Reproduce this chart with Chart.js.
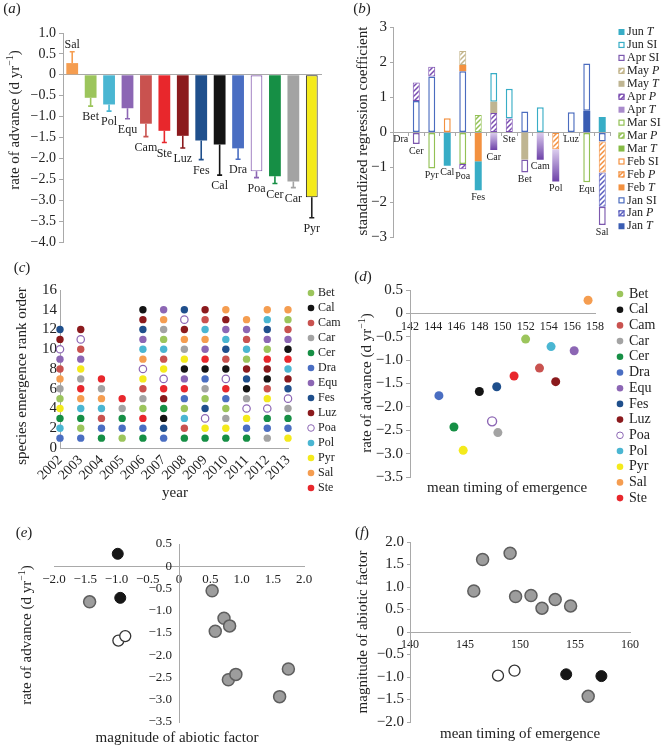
<!DOCTYPE html>
<html>
<head>
<meta charset="utf-8">
<script src="https://cdn.jsdelivr.net/npm/chart.js@4.4.0/dist/chart.umd.min.js"></script>
<style>
  body { margin: 0; background: #fff; }
  #fig { position: relative; width: 662px; height: 746px; overflow: hidden; }
  #fig canvas { position: absolute; }
</style>
</head>
<body>
<div id="fig">
  <canvas id="chartA" width="330" height="258" style="left:0;top:0"></canvas>
  <canvas id="chartB" width="332" height="258" style="left:330px;top:0"></canvas>
  <canvas id="chartC" width="350" height="256" style="left:0;top:258px"></canvas>
  <canvas id="chartD" width="332" height="256" style="left:330px;top:258px"></canvas>
  <canvas id="chartE" width="330" height="232" style="left:0;top:514px"></canvas>
  <canvas id="chartF" width="332" height="232" style="left:330px;top:514px"></canvas>
</div>
<script>
// data

const _ = null;

// (a) rate of advance, one sided error
const aSpecies = ['Sal', 'Bet', 'Pol', 'Equ', 'Cam', 'Ste', 'Luz', 'Fes', 'Cal', 'Dra', 'Poa', 'Cer', 'Car', 'Pyr'];
const aRate = [0.28, -0.55, -0.71, -0.80, -1.17, -1.34, -1.46, -1.57, -1.67, -1.76, -2.31, -2.43, -2.55, -2.93];
const aErr = [0.27, 0.20, 0.16, 0.25, 0.31, 0.28, 0.29, 0.46, 0.73, 0.26, 0.15, 0.17, 0.15, 0.49];

// (b) standardized regression coefficients, one array per factor
const bSpecies = ['Dra', 'Cer', 'Pyr', 'Cal', 'Poa', 'Fes', 'Car', 'Ste', 'Bet', 'Cam', 'Pol', 'Luz', 'Equ', 'Sal'];
const janT  = [_, _, _, _, _, _, _, _, _, _, _, _, 0.62, _];
const janSI = [_, 0.90, 1.60, _, 1.75, _, _, _, 0.60, _, _, 0.58, 1.35, -0.26];
const janP  = [_, _, _, _, _, _, _, _, _, _, _, _, _, -0.98];
const febT  = [_, _, _, _, 0.18, -0.82, _, _, _, _, _, _, _, _];
const febP  = [_, _, _, _, _, _, _, _, _, _, -0.48, _, _, -0.88];
const febSI = [_, _, _, 0.41, _, _, _, _, _, _, _, _, _, _];
const marT  = [_, _, _, _, _, _, _, _, _, _, _, _, _, _];
const marP  = [_, _, _, _, _, 0.50, _, _, _, _, _, _, _, _];
const marSI = [_, _, -1.03, _, -0.90, _, _, _, _, _, _, _, -1.42, _];
const aprT  = [_, _, _, _, _, _, -0.50, _, _, -0.78, -0.92, _, _, _];
const aprP  = [_, 0.53, 0.28, _, -0.15, _, 0.56, 0.40, _, _, _, _, _, _];
const aprSI = [_, -0.33, _, _, _, _, _, _, -0.37, _, _, _, _, -0.52];
const mayT  = [_, _, _, _, _, _, 0.32, _, -0.77, _, _, _, _, _];
const mayP  = [_, _, _, _, 0.40, _, _, _, _, _, _, _, _, _];
const junT  = [_, _, _, -0.95, _, -0.83, _, _, _, _, _, _, _, 0.44];
const junSI = [_, _, _, _, _, _, 0.82, 0.85, _, 0.72, _, _, _, _];

// (c) species in order of emergence, rank 1 first
const years = [2002, 2003, 2004, 2005, 2006, 2007, 2008, 2009, 2010, 2011, 2012, 2013];
const rankOrder = [
  ['Dra', 'Pol', 'Cer', 'Pyr', 'Bet', 'Car', 'Sal', 'Cam', 'Equ', 'Poa', 'Luz', 'Fes'],
  ['Dra', 'Bet', 'Cer', 'Pol', 'Sal', 'Ste', 'Car', 'Pyr', 'Equ', 'Cam', 'Poa', 'Luz'],
  ['Cer', 'Dra', 'Cam', 'Pol', 'Sal', 'Car', 'Ste'],
  ['Bet', 'Dra', 'Cer', 'Car', 'Ste'],
  ['Cer', 'Dra', 'Ste', 'Bet', 'Car', 'Cam', 'Pyr', 'Poa', 'Sal', 'Pol', 'Equ', 'Fes', 'Luz', 'Cal'],
  ['Dra', 'Fes', 'Cal', 'Cer', 'Luz', 'Ste', 'Poa', 'Pyr', 'Cam', 'Pol', 'Bet', 'Car', 'Sal', 'Equ'],
  ['Cer', 'Cam', 'Pol', 'Bet', 'Dra', 'Ste', 'Equ', 'Cal', 'Pyr', 'Car', 'Sal', 'Luz', 'Poa', 'Fes'],
  ['Cer', 'Pyr', 'Poa', 'Fes', 'Bet', 'Car', 'Dra', 'Cal', 'Ste', 'Equ', 'Sal', 'Pol', 'Cam', 'Luz'],
  ['Cer', 'Pyr', 'Car', 'Bet', 'Dra', 'Ste', 'Poa', 'Cal', 'Cam', 'Fes', 'Pol', 'Equ', 'Luz', 'Sal'],
  ['Cer', 'Dra', 'Pyr', 'Poa', 'Car', 'Cal', 'Fes', 'Luz', 'Bet', 'Pol', 'Cam', 'Equ', 'Sal'],
  ['Car', 'Dra', 'Cer', 'Poa', 'Pyr', 'Cam', 'Cal', 'Luz', 'Ste', 'Bet', 'Equ', 'Fes', 'Pol', 'Sal'],
  ['Pyr', 'Dra', 'Cer', 'Car', 'Poa', 'Fes', 'Luz', 'Pol', 'Ste', 'Cal', 'Equ', 'Cam', 'Bet', 'Sal']
];

// (d) mean timing of emergence
const legendSpecies = ['Bet', 'Cal', 'Cam', 'Car', 'Cer', 'Dra', 'Equ', 'Fes', 'Luz', 'Poa', 'Pol', 'Pyr', 'Sal', 'Ste'];
const meanTiming = [152.0, 148.0, 153.2, 149.6, 145.8, 144.5, 156.2, 149.5, 154.6, 149.1, 154.2, 146.6, 157.4, 151.0];

// (e), (f) magnitude of the abiotic factor
const factorSpecies = ['Equ', 'Pol', 'Cal', 'Fes', 'Bet', 'Cam', 'Ste', 'Luz', 'Car', 'Cer', 'Poa', 'Pyr', 'Sal'];
const abioticFactor = [-1.43, -0.94, -0.97, -0.86, 0.53, 0.72, 0.81, 0.58, 0.79, 0.91, 1.75, 1.61, -0.98];
const factorType = ['grey', 'black', 'open', 'open', 'grey', 'grey', 'grey', 'grey', 'grey', 'grey', 'grey', 'grey', 'black'];

// styles

const SERIF = '"Liberation Serif", "DejaVu Serif", serif';
const INK = '#222';
const AXIS = '#a9a9a9';

Chart.defaults.font.family = SERIF;
Chart.defaults.color = INK;
Chart.defaults.animation = false;
Chart.defaults.responsive = false;
Chart.defaults.plugins.legend.display = false;
Chart.defaults.plugins.tooltip.enabled = false;

const spColor = {
  Bet: '#9cc55c', Cal: '#141414', Cam: '#c9524f', Car: '#a3a3a3', Cer: '#168f45',
  Dra: '#4a6ec2', Equ: '#8c66b4', Fes: '#1f4f8c', Luz: '#8b1a1d', Poa: '#ffffff',
  Pol: '#4ab6d2', Pyr: '#f4ea1c', Sal: '#f59d50', Ste: '#e8272c'
};
const POA_EDGE = '#8c66b4';

// month, variable, kind, colour
const bStyle = {
  junT: ['Jun', 'T', 'fill', '#38adc6'],
  junSI: ['Jun', 'SI', 'outline', '#38adc6'],
  aprSI: ['Apr', 'SI', 'outline', '#7c58ae'],
  mayP: ['May', 'P', 'hatch', '#c2b48a'],
  mayT: ['May', 'T', 'fill', '#bfb592'],
  aprP: ['Apr', 'P', 'hatch', '#7a4cb0'],
  aprT: ['Apr', 'T', 'grad', '#a98bcc'],
  marSI: ['Mar', 'SI', 'outline', '#93c155'],
  marP: ['Mar', 'P', 'hatch', '#93c155'],
  marT: ['Mar', 'T', 'fill', '#86bb45'],
  febSI: ['Feb', 'SI', 'outline', '#f39140'],
  febP: ['Feb', 'P', 'hatch', '#f39140'],
  febT: ['Feb', 'T', 'fill', '#f39140'],
  janSI: ['Jan', 'SI', 'outline', '#4b6cbf'],
  janP: ['Jan', 'P', 'hatch', '#5b5fbf'],
  janT: ['Jan', 'T', 'fill', '#3a5db3']
};
const bValues = { janT, janSI, janP, febT, febP, febSI, marT, marP, marSI, aprT, aprP, aprSI, mayT, mayP, junT, junSI };
const bLegendOrder = ['junT', 'junSI', 'aprSI', 'mayP', 'mayT', 'aprP', 'aprT', 'marSI', 'marP', 'marT', 'febSI', 'febP', 'febT', 'janSI', 'janP', 'janT'];
const bStackOrder = ['janT', 'janSI', 'febT', 'febP', 'janP', 'marSI', 'aprP', 'aprT', 'mayP', 'mayT', 'aprSI', 'junSI', 'junT', 'febSI', 'marP', 'marT'];

// helpers

const fmt1 = v => Math.abs(v) < 1e-9 ? '0' : (v < 0 ? '\u2212' : '') + Math.abs(v).toFixed(1);
const fmtInt = v => (v < 0 ? '\u2212' : '') + Math.abs(v);

function drawRich(ctx, parts, x, y, size, opt = {}) {
  const items = parts.map(p => typeof p === 'string' ? { t: p } : p);
  const font = p => (p.it ? 'italic ' : '') + (p.sup ? Math.round(size * 0.68) : size) + 'px ' + SERIF;
  ctx.save();
  ctx.translate(x, y);
  if (opt.rot) ctx.rotate(opt.rot);
  ctx.fillStyle = opt.color || INK;
  ctx.textBaseline = 'middle';
  ctx.textAlign = 'left';
  let w = 0;
  const widths = items.map(p => { ctx.font = font(p); const m = ctx.measureText(p.t).width; w += m; return m; });
  let cx = opt.align === 'left' ? 0 : opt.align === 'right' ? -w : -w / 2;
  items.forEach((p, i) => {
    ctx.font = font(p);
    ctx.fillText(p.t, cx, p.sup ? -size * 0.33 : 0);
    cx += widths[i];
  });
  ctx.restore();
}

const panelLabel = (ctx, letter, x, y) => drawRich(ctx, ['(', { t: letter, it: true }, ')'], x, y, 15);
const rateTitle = ['rate of advance (d yr', { t: '\u22121', sup: true }, ')'];
const UP = -Math.PI / 2;

function hatch(color) {
  const c = document.createElement('canvas');
  c.width = 5; c.height = 5;
  const g = c.getContext('2d');
  g.fillStyle = '#fff';
  g.fillRect(0, 0, 5, 5);
  g.strokeStyle = color;
  g.lineWidth = 1.5;
  g.beginPath();
  g.moveTo(-1, 6); g.lineTo(6, -1);
  g.moveTo(-1, 1); g.lineTo(1, -1);
  g.moveTo(4, 6); g.lineTo(6, 4);
  g.stroke();
  return g.createPattern(c, 'repeat');
}
const hatchFor = {};
Object.keys(bStyle).forEach(k => { if (bStyle[k][2] === 'hatch') hatchFor[k] = hatch(bStyle[k][3]); });

function aprTFill(c) {
  const ch = c.chart, y = ch.scales.y, i = c.dataIndex;
  if (!ch.chartArea || !y || i === undefined || aprT[i] === null) return bStyle.aprT[3];
  let start = 0;
  for (const k of bStackOrder) {
    if (k === 'aprT') break;
    const v = bValues[k][i];
    if (v !== null && v < 0) start += v;
  }
  const g = ch.ctx.createLinearGradient(0, y.getPixelForValue(start), 0, y.getPixelForValue(start + aprT[i]));
  g.addColorStop(0, '#dccdee');
  g.addColorStop(1, '#6d42a8');
  return g;
}

function leftAxis(min, max, step, width, size, fmt, tick, pad) {
  return {
    min, max,
    ticks: { stepSize: step, autoSkip: false, callback: fmt, font: { size }, padding: pad, color: INK },
    grid: { drawOnChartArea: false, drawTicks: tick > 0, tickLength: tick, color: AXIS },
    border: { color: AXIS },
    afterFit: s => { s.width = width; }
  };
}

function speciesLegend(ctx, x, tx, y0, dy, r, size) {
  legendSpecies.forEach((s, i) => {
    const cy = y0 + i * dy;
    ctx.beginPath();
    ctx.arc(x, cy, r, 0, Math.PI * 2);
    ctx.fillStyle = spColor[s];
    ctx.fill();
    if (s === 'Poa') { ctx.strokeStyle = POA_EDGE; ctx.lineWidth = 1; ctx.stroke(); }
    drawRich(ctx, [s], tx, cy, size, { align: 'left' });
  });
}

const rateOf = s => aRate[aSpecies.indexOf(s)];
const timingOf = s => meanTiming[legendSpecies.indexOf(s)];

const dotStyle = {
  grey: { bg: '#9d9d9d', edge: '#5e5e5e', w: 1.5, r: 6 },
  black: { bg: '#161616', edge: '#161616', w: 1, r: 5.5 },
  open: { bg: '#ffffff', edge: '#333333', w: 1.3, r: 5.5 }
};
function factorSets(xOf, yOf) {
  return ['grey', 'black', 'open'].map(t => ({
    data: factorSpecies.map((s, i) => factorType[i] === t ? { x: xOf(s, i), y: yOf(s, i) } : null).filter(p => p),
    backgroundColor: dotStyle[t].bg,
    borderColor: dotStyle[t].edge,
    borderWidth: dotStyle[t].w,
    pointRadius: dotStyle[t].r,
    clip: false
  }));
}

function zeroXAxis(min, max, step, size, fmt) {
  return {
    type: 'linear', min, max, position: { y: 0 },
    ticks: { stepSize: step, autoSkip: false, minRotation: 0, maxRotation: 0, padding: 6, font: { size }, color: INK, callback: fmt },
    grid: { display: false, drawTicks: false },
    border: { color: AXIS }
  };
}

// (a)
new Chart(document.getElementById('chartA'), {
  type: 'bar',
  data: {
    labels: aSpecies,
    datasets: [{
      data: aRate,
      backgroundColor: aSpecies.map(s => spColor[s]),
      borderColor: aSpecies.map(s => s === 'Poa' ? POA_EDGE : '#222'),
      borderWidth: aSpecies.map(s => s === 'Poa' ? 1.2 : s === 'Pyr' ? 1 : 0),
      borderSkipped: false,
      barPercentage: 0.64,
      categoryPercentage: 1
    }]
  },
  options: {
    layout: { padding: { top: 33, bottom: 16, left: 0, right: 9 } },
    scales: {
      x: { position: { y: 0 }, ticks: { display: false }, grid: { display: false, drawTicks: false }, border: { color: AXIS } },
      y: leftAxis(-4, 1, 0.5, 63, 14, fmt1, 4, 3)
    }
  },
  plugins: [{
    id: 'decoA',
    afterDatasetsDraw(chart) {
      const { ctx, scales: { x, y } } = chart;
      ctx.save();
      ctx.lineWidth = 1.6;
      aSpecies.forEach((s, i) => {
        const px = x.getPixelForValue(i);
        const end = aRate[i] + Math.sign(aRate[i]) * aErr[i];
        const y0 = y.getPixelForValue(aRate[i]), y1 = y.getPixelForValue(end);
        ctx.strokeStyle = s === 'Poa' ? POA_EDGE : s === 'Pyr' ? '#222' : spColor[s];
        ctx.beginPath();
        ctx.moveTo(px, y0); ctx.lineTo(px, y1);
        ctx.moveTo(px - 2.5, y1); ctx.lineTo(px + 2.5, y1);
        ctx.stroke();
        drawRich(ctx, [s], px, y1 + (aRate[i] > 0 ? -7 : 11), 12);
      });
      ctx.restore();
    },
    afterDraw(chart) {
      const ctx = chart.ctx;
      panelLabel(ctx, 'a', 12, 9);
      drawRich(ctx, rateTitle, 15, 120, 15, { rot: UP });
    }
  }]
});

// (b)
new Chart(document.getElementById('chartB'), {
  type: 'bar',
  data: {
    labels: bSpecies,
    datasets: bStackOrder.map(k => {
      const [m, v, kind, color] = bStyle[k];
      return {
        label: m + ' ' + v,
        data: bValues[k],
        backgroundColor: kind === 'fill' ? color : kind === 'outline' ? '#fff' : kind === 'hatch' ? hatchFor[k] : aprTFill,
        borderColor: color,
        borderWidth: kind === 'outline' ? 1.5 : kind === 'hatch' ? 1 : 0,
        borderSkipped: false,
        barPercentage: 0.45,
        categoryPercentage: 1
      };
    })
  },
  options: {
    layout: { padding: { top: 27.5, bottom: 20.5, left: 0, right: 52 } },
    scales: {
      x: {
        stacked: true, position: { y: 0 },
        ticks: { display: false },
        grid: { drawOnChartArea: false, tickLength: 3, color: AXIS, offset: true },
        border: { color: AXIS }
      },
      y: Object.assign(leftAxis(-3, 3, 1, 63, 15, fmtInt, 3, 3), { stacked: true })
    }
  },
  plugins: [{
    id: 'decoB',
    afterDatasetsDraw(chart) {
      const { ctx, scales: { x, y } } = chart;
      bSpecies.forEach((s, i) => {
        let neg = 0;
        bStackOrder.forEach(k => { const v = bValues[k][i]; if (v !== null && v < 0) neg += v; });
        drawRich(ctx, [s], x.getPixelForValue(i), y.getPixelForValue(neg) + 7, 10);
      });
    },
    afterDraw(chart) {
      const ctx = chart.ctx;
      panelLabel(ctx, 'b', 32, 9);
      drawRich(ctx, ['standardized regression coefficient'], 33, 131, 15, { rot: UP });
      bLegendOrder.forEach((k, i) => {
        const [m, v, kind, color] = bStyle[k];
        const cy = 32 + i * 12.95, cx = 291.5;
        ctx.fillStyle = kind === 'hatch' ? hatchFor[k] : kind === 'outline' ? '#fff' : color;
        ctx.fillRect(cx - 3, cy - 3, 6, 6);
        if (kind === 'outline' || kind === 'hatch') {
          ctx.strokeStyle = color; ctx.lineWidth = 1.2;
          ctx.strokeRect(cx - 2.5, cy - 2.5, 5, 5);
        }
        drawRich(ctx, [m + ' ', v === 'SI' ? 'SI' : { t: v, it: true }], 297, cy, 12, { align: 'left' });
      });
    }
  }]
});

// (c)
new Chart(document.getElementById('chartC'), {
  type: 'scatter',
  data: {
    datasets: legendSpecies.map(s => ({
      label: s,
      data: years.flatMap((yr, j) => {
        const r = rankOrder[j].indexOf(s);
        return r < 0 ? [] : [{ x: yr, y: r + 1 }];
      }),
      backgroundColor: spColor[s],
      borderColor: s === 'Poa' ? POA_EDGE : spColor[s],
      borderWidth: s === 'Poa' ? 1.2 : 0,
      pointRadius: 3.7,
      clip: false
    }))
  },
  options: {
    layout: { padding: { top: 32, bottom: 0, left: 0, right: 62 } },
    scales: {
      x: {
        type: 'linear', min: 2002, max: 2013,
        ticks: { stepSize: 1, autoSkip: false, minRotation: 45, maxRotation: 45, padding: 4, font: { size: 14 }, color: INK, callback: v => String(v) },
        grid: { display: false, drawTicks: false },
        border: { color: AXIS },
        afterFit: s => { s.height = 66; }
      },
      y: leftAxis(0, 16, 2, 60, 15, fmtInt, 0, 3)
    }
  },
  plugins: [{
    id: 'decoC',
    afterDraw(chart) {
      const ctx = chart.ctx;
      panelLabel(ctx, 'c', 22, 10);
      drawRich(ctx, ['species emergence rank order'], 22, 118, 15, { rot: UP });
      drawRich(ctx, ['year'], 175, 235, 15);
      speciesLegend(ctx, 311, 318, 35, 15, 3.3, 12);
    }
  }]
});

// (d)
new Chart(document.getElementById('chartD'), {
  type: 'scatter',
  data: {
    datasets: legendSpecies.map((s, i) => ({
      label: s,
      data: [{ x: meanTiming[i], y: rateOf(s) }],
      backgroundColor: spColor[s],
      borderColor: s === 'Poa' ? POA_EDGE : spColor[s],
      borderWidth: s === 'Poa' ? 1.4 : 0,
      pointRadius: 4.5,
      clip: false
    }))
  },
  options: {
    layout: { padding: { top: 32, bottom: 37, left: 0, right: 67 } },
    scales: {
      x: zeroXAxis(142, 158, 2, 12, v => String(v)),
      y: leftAxis(-3.5, 0.5, 0.5, 80, 15, fmt1, 4, 3)
    }
  },
  plugins: [{
    id: 'decoD',
    afterDraw(chart) {
      const ctx = chart.ctx;
      panelLabel(ctx, 'd', 33, 19);
      drawRich(ctx, rateTitle, 37, 125, 15, { rot: UP });
      drawRich(ctx, ['mean timing of emergence'], 177, 230, 15);
      speciesLegend(ctx, 290, 299, 36, 15.7, 3.3, 14);
    }
  }]
});

// (e)
new Chart(document.getElementById('chartE'), {
  type: 'scatter',
  data: { datasets: factorSets((s, i) => abioticFactor[i], s => rateOf(s)) },
  options: {
    layout: { padding: { top: 30, bottom: 24, left: 54, right: 26 } },
    scales: {
      x: zeroXAxis(-2, 2, 0.5, 13, fmt1),
      y: {
        type: 'linear', min: -3.5, max: 0.5, position: { x: 0 },
        ticks: { stepSize: 0.5, autoSkip: false, display: false },
        grid: { drawOnChartArea: false, drawTicks: false },
        border: { color: AXIS }
      }
    }
  },
  plugins: [{
    id: 'decoE',
    afterDraw(chart) {
      const { ctx, scales: { x, y } } = chart;
      // y tick labels sit left of the crossing axis
      const x0 = x.getPixelForValue(0);
      y.ticks.forEach(t => drawRich(ctx, [fmt1(t.value)], x0 - 7, y.getPixelForValue(t.value), 13, { align: 'right' }));
      panelLabel(ctx, 'e', 24, 19);
      drawRich(ctx, rateTitle, 27, 121, 15, { rot: UP });
      drawRich(ctx, ['magnitude of abiotic factor'], 177, 224, 15);
    }
  }]
});

// (f)
new Chart(document.getElementById('chartF'), {
  type: 'scatter',
  data: { datasets: factorSets(s => timingOf(s), (s, i) => abioticFactor[i]) },
  options: {
    layout: { padding: { top: 28, bottom: 24, left: 0, right: 32 } },
    scales: {
      x: zeroXAxis(140, 160, 5, 12, v => String(v)),
      y: leftAxis(-2, 2, 0.5, 80, 15, fmt1, 3, 3)
    }
  },
  plugins: [{
    id: 'decoF',
    afterDraw(chart) {
      const ctx = chart.ctx;
      panelLabel(ctx, 'f', 32, 19);
      drawRich(ctx, ['magnitude of abiotic factor'], 33, 118, 15, { rot: UP });
      drawRich(ctx, ['mean timing of emergence'], 190, 220, 15);
    }
  }]
});
</script>
</body>
</html>
